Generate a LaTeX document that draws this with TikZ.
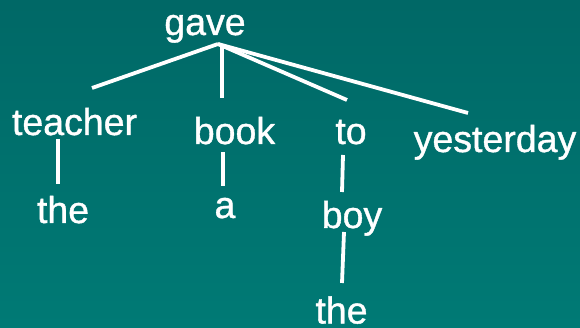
\documentclass[tikz,border=0pt]{standalone}
\usepackage{fontspec}
\setmainfont{Liberation Sans}
\newfontfamily\wordfont[FakeBold=1]{Liberation Sans}
\begin{document}
\begin{tikzpicture}[x=1pt,y=-1pt,
  word/.style={text=white,font=\wordfont\fontsize{37.5}{40}\selectfont,inner sep=0pt,anchor=base},
  link/.style={draw=white,line width=3.8pt}]
\shade[top color={rgb,255:red,0;green,104;blue,102},bottom color={rgb,255:red,0;green,122;blue,117}] (0,0) rectangle (580,328);
\useasboundingbox (0,0) rectangle (580,328);
\node[word] (gave) at (205,35) {gave};
\node[word] (teacher) at (74.5,135) {teacher};
\node[word] (book) at (234.5,144) {book};
\node[word] (to) at (351,144) {to};
\node[word] (yesterday) at (495,152) {yesterday};
\node[word] (the1) at (63,223) {the};
\node[word] (a) at (225,218) {a};
\node[word] (boy) at (352,228) {boy};
\node[word] (the2) at (341.5,323.5) {the};
\coordinate (apex) at (218,44);
\coordinate (apexv) at (222,44);
\coordinate (teacherT) at (92,88);
\coordinate (bookT) at (222,98);
\coordinate (toT) at (347,100);
\coordinate (yesterdayT) at (468,113);
\coordinate (teacherB) at (58,139);
\coordinate (the1T) at (58,184);
\coordinate (bookB) at (223,152);
\coordinate (aT) at (223,186);
\coordinate (toB) at (343,155);
\coordinate (boyT) at (342,192);
\coordinate (boyB) at (344,232);
\coordinate (the2T) at (342,283);
\draw[link] (apex) -- (teacherT);
\draw[link] (apexv) -- (bookT);
\draw[link] (apex) -- (toT);
\draw[link] (apex) -- (yesterdayT);
\draw[link] (teacherB) -- (the1T);
\draw[link] (bookB) -- (aT);
\draw[link] (toB) -- (boyT);
\draw[link] (boyB) -- (the2T);
\end{tikzpicture}
\end{document}
